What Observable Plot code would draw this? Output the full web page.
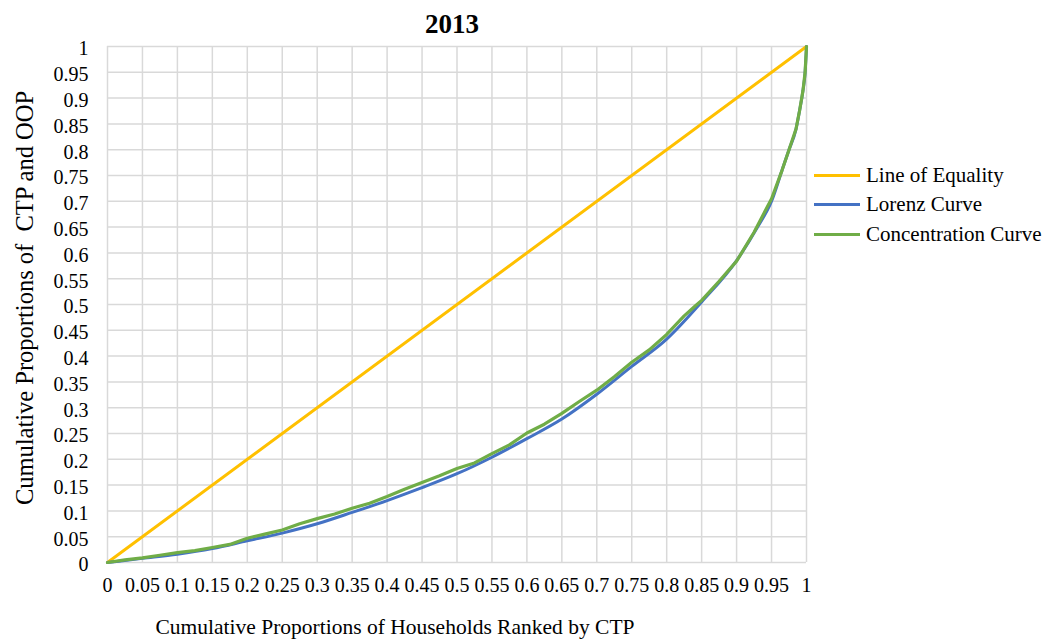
<!DOCTYPE html>
<html>
<head>
<meta charset="utf-8">
<script src="https://cdn.jsdelivr.net/npm/d3@7"></script>
<script src="https://cdn.jsdelivr.net/npm/@observablehq/plot@0.6"></script>
<style>
  body { margin: 0; background: #fff; }
  #wrap { position: relative; width: 1045px; height: 639px; font-family: "Liberation Serif", "Times New Roman", serif; color: #000; }
  #chart { position: absolute; left: 0; top: 0; }
  .ov { position: absolute; white-space: pre; line-height: 1; }
  .leg { position: absolute; left: 814px; display: flex; align-items: center; font-size: 21px; line-height: 1; white-space: pre; }
  .leg .sw { width: 46px; height: 3px; margin-right: 6px; }
</style>
</head>
<body>
<div id="wrap">
  <div id="chart"></div>
</div>
<script>
// ---- data ----
const xTicks = [0,0.05,0.1,0.15,0.2,0.25,0.3,0.35,0.4,0.45,0.5,0.55,0.6,0.65,0.7,0.75,0.8,0.85,0.9,0.95,1];
const yTicks = [0,0.05,0.1,0.15,0.2,0.25,0.3,0.35,0.4,0.45,0.5,0.55,0.6,0.65,0.7,0.75,0.8,0.85,0.9,0.95,1];

const equalityX = [0, 1];
const equalityY = [0, 1];

const lorenzX = [0,0.05,0.1,0.15,0.2,0.25,0.3,0.35,0.4,0.45,0.5,0.55,0.6,0.65,0.7,0.75,0.8,0.85,0.9,0.93,0.95,0.965,0.975,0.985,0.99,0.995,0.998,1];
const lorenzY = [0,0.008,0.016,0.027,0.042,0.057,0.075,0.097,0.12,0.145,0.172,0.204,0.24,0.278,0.326,0.38,0.433,0.505,0.585,0.65,0.70,0.76,0.80,0.84,0.875,0.915,0.95,1];

const concX = [0,0.025,0.05,0.075,0.1,0.125,0.15,0.175,0.2,0.225,0.25,0.275,0.3,0.325,0.35,0.375,0.4,0.425,0.45,0.475,0.5,0.525,0.55,0.575,0.6,0.625,0.65,0.675,0.7,0.725,0.75,0.775,0.8,0.825,0.84,0.85,0.875,0.9,0.925,0.95,0.965,0.975,0.985,0.99,0.995,0.998,1];
const concY = [0,0.005,0.009,0.014,0.019,0.023,0.029,0.035,0.047,0.055,0.063,0.075,0.085,0.094,0.105,0.115,0.128,0.142,0.155,0.168,0.182,0.193,0.211,0.228,0.251,0.268,0.289,0.312,0.334,0.36,0.388,0.412,0.442,0.478,0.496,0.508,0.545,0.584,0.64,0.705,0.76,0.80,0.84,0.875,0.915,0.95,1];

const seriesNames = ["Line of Equality", "Lorenz Curve", "Concentration Curve"];
const seriesColors = ["#FFC000", "#4472C4", "#70AD47"];

const titleText = "2013";
const xLabel = "Cumulative Proportions of Households Ranked by CTP";
const yLabel = "Cumulative Proportions of  CTP and OOP";

// ---- build ----
const toRows = (xs, ys, s) => xs.map((x, i) => ({x, y: ys[i], s}));
const eqRows = toRows(equalityX, equalityY, seriesNames[0]);
const lzRows = toRows(lorenzX, lorenzY, seriesNames[1]);
const ccRows = toRows(concX, concY, seriesNames[2]);

const fmt = d => String(+d.toFixed(2));

const plot = Plot.plot({
  width: 1045,
  height: 639,
  marginLeft: 107,
  marginRight: 239,
  marginTop: 46,
  marginBottom: 77,
  style: { fontFamily: "'Liberation Serif', 'Times New Roman', serif", fontSize: "20px", background: "#fff", color: "#000" },
  x: { domain: [0, 1] },
  y: { domain: [0, 1] },
  marks: [
    Plot.gridX(xTicks, { stroke: "#d9d9d9", strokeOpacity: 1, strokeWidth: 1.5 }),
    Plot.gridY(yTicks, { stroke: "#d9d9d9", strokeOpacity: 1, strokeWidth: 1.5 }),
    Plot.axisX(xTicks, { tickSize: 0, tickPadding: 15, tickFormat: fmt, label: null }),
    Plot.axisY(yTicks, { tickSize: 0, tickPadding: 19, tickFormat: fmt, label: null, dy: 2.5 }),
    Plot.line(eqRows, { x: "x", y: "y", stroke: seriesColors[0], strokeWidth: 3 }),
    Plot.line(lzRows, { x: "x", y: "y", stroke: seriesColors[1], strokeWidth: 3, curve: "monotone-x" }),
    Plot.line(ccRows, { x: "x", y: "y", stroke: seriesColors[2], strokeWidth: 3.2, curve: "linear" })
  ]
});
document.getElementById("chart").appendChild(plot);

const wrap = document.getElementById("wrap");
function addText(txt, css) {
  const d = document.createElement("div");
  d.className = "ov";
  d.textContent = txt;
  Object.assign(d.style, css);
  wrap.appendChild(d);
  return d;
}
addText(titleText, { left: "452px", top: "11px", fontSize: "27px", fontWeight: "bold", transform: "translateX(-50%)" });
addText(xLabel, { left: "395px", top: "617px", fontSize: "21.5px", transform: "translateX(-50%)" });
addText(yLabel, { left: "25px", top: "298px", fontSize: "24.5px", transform: "translate(-50%, -50%) rotate(-90deg)" });

const legendTops = [175, 204.5, 234];
seriesNames.forEach((name, i) => {
  const row = document.createElement("div");
  row.className = "leg";
  row.style.top = (legendTops[i] - 11) + "px";
  row.style.height = "22px";
  const sw = document.createElement("span");
  sw.className = "sw";
  sw.style.background = seriesColors[i];
  const t = document.createElement("span");
  t.textContent = name;
  row.appendChild(sw);
  row.appendChild(t);
  wrap.appendChild(row);
});
</script>
</body>
</html>
